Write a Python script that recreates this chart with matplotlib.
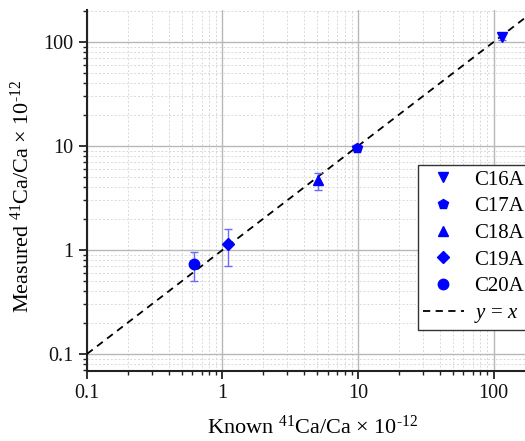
import matplotlib
matplotlib.use("Agg")
import matplotlib.pyplot as plt
import numpy as np

plt.rcParams['font.family'] = ['Liberation Serif', 'DejaVu Serif']
plt.rcParams['mathtext.fontset'] = 'custom'
plt.rcParams['mathtext.rm'] = 'Liberation Serif'
plt.rcParams['mathtext.it'] = 'Liberation Serif:italic'

labels = ['C16A', 'C17A', 'C18A', 'C19A', 'C20A']
markers = ['v', 'p', '^', 'D', 'o']
known = [115, 9.8, 5.1, 1.09, 0.62]
measured = [112, 9.6, 4.7, 1.13, 0.73]
err_lo = [8, 0.4, 0.95, 0.43, 0.23]
err_hi = [10, 0.4, 0.8, 0.45, 0.23]
msizes = [7, 7.5, 7, 6, 7.5]

fig = plt.figure(figsize=(5.25, 4.41), dpi=100)
ax = fig.add_axes([0.1657, 0.1594, 0.852, 0.8177])
ax.set_xscale('log')
ax.set_yscale('log')
ax.set_xlim(0.1, 200)
ax.set_ylim(0.069, 203)

ax.grid(True, which='major', color='#b8b8b8', lw=1.0, ls='-')
ax.grid(True, which='minor', color='#d8d8d8', lw=0.7, ls=(0, (2, 2)))
ax.set_axisbelow(True)

line = np.array([0.1, 300])
ax.plot(line, line, 'k--', lw=1.3, dashes=(4, 3), zorder=3)

handles = []
for lab, m, xk, ym, lo, hi, ms in zip(labels, markers, known, measured, err_lo, err_hi, msizes):
    ax.errorbar([xk], [ym], yerr=[[lo], [hi]], fmt='none', ecolor='#6a6aff',
                elinewidth=1.0, capsize=3, capthick=1.0, zorder=4)
    h, = ax.plot([xk], [ym], ls='none', marker=m, color='#0000ff', ms=ms,
                 mec='#0000ff', label=lab, zorder=5)
    handles.append(h)

for s in ['top', 'right']:
    ax.spines[s].set_visible(False)
for s in ['left', 'bottom']:
    ax.spines[s].set_linewidth(1.5)
    ax.spines[s].set_color('#222222')

ax.tick_params(which='major', direction='out', length=6, width=1.3, labelsize=14.5, colors='#222222')
ax.tick_params(which='minor', direction='out', length=3, width=1.0, colors='#222222')
ax.tick_params(axis='both', which='both', labelcolor='#111111')
ax.set_xticks([0.1, 1, 10, 100])
ax.set_xticklabels(['0.1', '1', '10', '100'])
ax.set_yticks([0.1, 1, 10, 100])
ax.set_yticklabels(['0.1', '1', '10', '100'])

ax.set_xlabel('Known $^{\\rm 41}$Ca/Ca × 10$^{\\rm \u201012}$', fontsize=16)
ax.xaxis.set_label_coords(0.505, -0.125)
ax.set_ylabel('Measured $^{\\rm 41}$Ca/Ca × 10$^{\\rm \u201012}$', fontsize=16)
ax.yaxis.set_label_coords(-0.12, 0.484)

dash_handle = ax.get_lines()[0]
leg = fig.legend(handles + [dash_handle], labels + ['$y$ = $x$'], loc='upper left',
                 bbox_to_anchor=(0.796, 0.626), fontsize=15, frameon=True,
                 fancybox=False, edgecolor='#333333', framealpha=1,
                 handlelength=1.95, handletextpad=0.5, borderpad=0.25, labelspacing=0.34,
                 borderaxespad=0)
leg.get_frame().set_linewidth(1.0)

fig.savefig('out.png', dpi=100)
